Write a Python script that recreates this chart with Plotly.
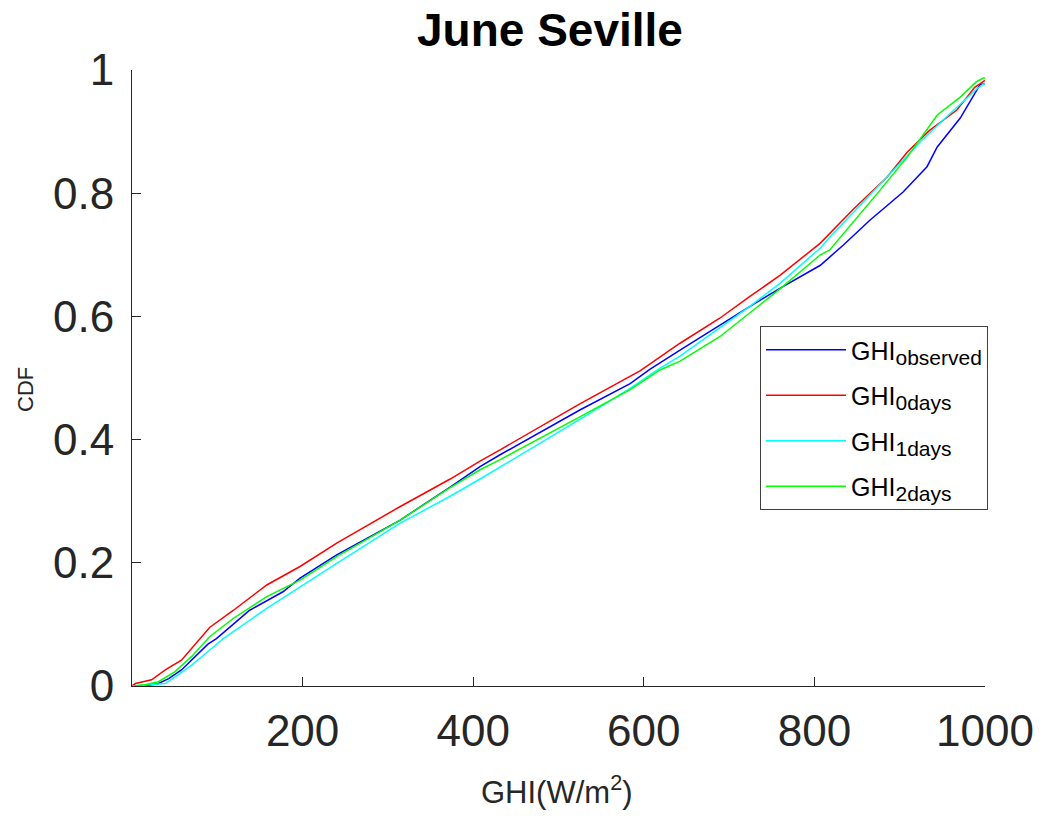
import plotly.graph_objects as go

# ---- data (GHI in W/m^2, CDF) ----
obs_x = [0, 15, 31, 43, 58, 74, 89, 99, 138, 177, 197, 240, 314, 373, 408, 431, 525, 584, 607, 642, 689, 724, 760, 807, 834, 865, 904, 932, 944, 971, 994, 1000]
obs_y = [0, 0.0, 0.004, 0.012, 0.026, 0.048, 0.068, 0.077, 0.123, 0.153, 0.175, 0.213, 0.269, 0.323, 0.356, 0.375, 0.448, 0.491, 0.514, 0.545, 0.586, 0.616, 0.646, 0.683, 0.716, 0.756, 0.802, 0.843, 0.875, 0.922, 0.976, 0.978]

d0_x = [0, 4, 23, 39, 58, 80, 91, 119, 158, 197, 240, 314, 373, 408, 431, 525, 584, 596, 642, 689, 724, 760, 807, 845, 885, 909, 935, 967, 988, 998, 1000]
d0_y = [0, 0.004, 0.010, 0.026, 0.042, 0.077, 0.095, 0.123, 0.164, 0.194, 0.232, 0.291, 0.336, 0.365, 0.383, 0.458, 0.502, 0.512, 0.556, 0.597, 0.632, 0.667, 0.719, 0.773, 0.826, 0.867, 0.902, 0.935, 0.972, 0.982, 0.983]

d1_x = [0, 39, 54, 70, 89, 107, 158, 197, 240, 314, 373, 408, 431, 525, 584, 619, 642, 689, 724, 760, 807, 815, 873, 924, 955, 991, 998, 1000]
d1_y = [0, 0.004, 0.018, 0.034, 0.056, 0.077, 0.126, 0.161, 0.199, 0.264, 0.308, 0.336, 0.355, 0.433, 0.483, 0.516, 0.535, 0.581, 0.616, 0.654, 0.711, 0.724, 0.808, 0.883, 0.924, 0.970, 0.977, 0.978]

d2_x = [0, 15, 31, 50, 70, 91, 119, 158, 197, 240, 314, 373, 408, 431, 525, 584, 619, 642, 689, 724, 760, 807, 818, 877, 909, 944, 971, 990, 998, 1000]
d2_y = [0, 0.002, 0.007, 0.023, 0.048, 0.080, 0.110, 0.145, 0.172, 0.210, 0.269, 0.322, 0.351, 0.367, 0.437, 0.481, 0.513, 0.527, 0.567, 0.605, 0.645, 0.700, 0.708, 0.805, 0.859, 0.927, 0.956, 0.981, 0.987, 0.987]

series_base = "GHI"
series_subs = ["observed", "0days", "1days", "2days"]
series_colors = ["#0000FF", "#FF0000", "#00FFFF", "#00FF00"]

x_ticks = [200, 400, 600, 800, 1000]
y_ticks = [0, 0.2, 0.4, 0.6, 0.8, 1]
y_ticklabels = ["0", "0.2", "0.4", "0.6", "0.8", "1"]

FONT = "Liberation Sans, Arial, Helvetica, sans-serif"
AXC = "#262626"

# page body has an 8px margin -> figure is 1033x808 placed at (8, 8)
W, H = 1033, 808
OFF = 8

fig = go.Figure()
for i, (xs, ys, sub, col) in enumerate(zip([obs_x, d0_x, d1_x, d2_x], [obs_y, d0_y, d1_y, d2_y],
                                           series_subs, series_colors)):
    name = f"{series_base}<sub><span style='font-size:21px'>{sub}</span></sub>"
    fig.add_trace(go.Scatter(x=xs, y=ys, mode="lines", name=name, legendgroup=f"g{i}",
                             line=dict(color=col, width=1.5)))

fig.update_layout(
    width=W, height=H,
    margin=dict(l=132 - OFF, r=56, t=70 - OFF, b=130, autoexpand=False),
    paper_bgcolor="white", plot_bgcolor="white",
    font=dict(family=FONT, color=AXC),
    title=dict(text="<b>June Seville</b>", x=(550 - OFF) / W, xref="container", xanchor="center",
               y=1 - 6 / H, yref="container", yanchor="top",
               font=dict(size=46, color="black", family=FONT)),
    showlegend=True,
    legend=dict(x=(760 - 132) / 853, y=(686 - 326) / 616, xanchor="left", yanchor="top",
                bgcolor="white", bordercolor="#404040", borderwidth=1,
                font=dict(size=25, color="black", family=FONT),
                tracegroupgap=10, itemwidth=80),
    xaxis=dict(range=[0, 1000], tickvals=x_ticks, ticks="inside", ticklen=9, tickwidth=1,
               tickcolor=AXC, showline=True, linecolor=AXC, linewidth=1, mirror=False,
               showgrid=False, zeroline=False, tickfont=dict(size=44, color=AXC),
               ticklabelstandoff=6, automargin=False),
    yaxis=dict(range=[0, 1], tickvals=y_ticks, ticktext=y_ticklabels, ticks="inside", ticklen=9,
               tickwidth=1, tickcolor=AXC, showline=True, linecolor=AXC, linewidth=1, mirror=False,
               showgrid=False, zeroline=False, tickfont=dict(size=44, color=AXC),
               ticklabelstandoff=8, automargin=False),
)

fig.add_annotation(text="GHI(W/m<sup>2</sup>)", xref="paper", yref="paper",
                   x=(557 - 132) / 853, y=-(790 - 686) / 616, xanchor="center", yanchor="middle",
                   showarrow=False, font=dict(size=31, color=AXC, family=FONT))
fig.add_annotation(text="CDF", xref="paper", yref="paper",
                   x=-(132 - 26) / 853, y=(686 - 390) / 616, xanchor="center", yanchor="middle",
                   textangle=-90, showarrow=False, font=dict(size=22, color=AXC, family=FONT))

fig.write_html("out.html")
